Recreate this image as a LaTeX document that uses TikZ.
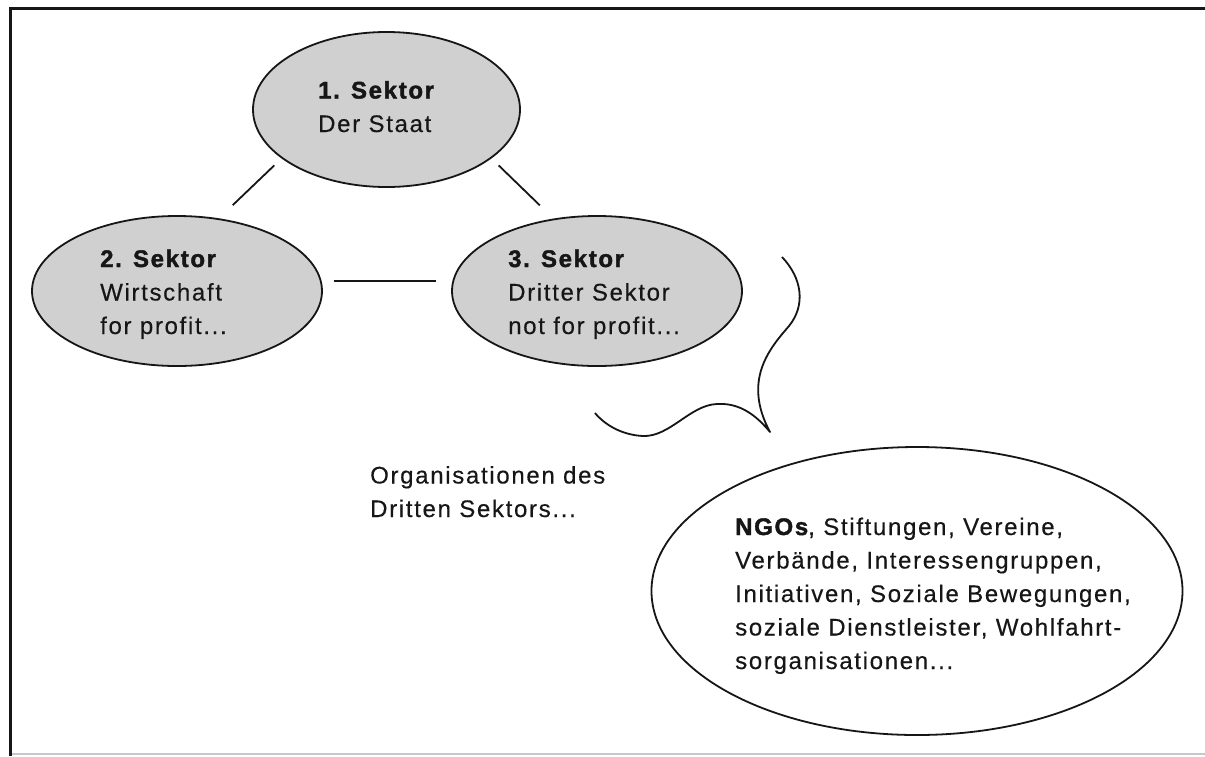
\documentclass[tikz,border=0pt]{standalone}
\usepackage{fontspec}
\setmainfont{Liberation Sans}[LetterSpace=7, UprightFeatures={FakeBold=0.35}, BoldFeatures={FakeBold=1.6}]
\usetikzlibrary{shapes.geometric}
\definecolor{ellgray}{RGB}{208,208,208}
\definecolor{inkc}{RGB}{22,22,22}
\begin{document}
\begin{tikzpicture}[x=1pt,y=-1pt,
  sector/.style={ellipse, draw=inkc, line width=1.8pt, fill=ellgray, inner sep=0pt},
  bubble/.style={ellipse, draw=inkc, line width=1.8pt, fill=white, inner sep=0pt},
  txt/.style={anchor=base west, align=left, inner sep=0pt, text=inkc, font=\fontsize{24}{33.5}\selectfont},
  conn/.style={draw=inkc, line width=1.8pt},
  tail/.style={draw=inkc, line width=1.8pt, line join=round}]
\useasboundingbox (0,0) rectangle (1205,756);
\fill[white] (0,0) rectangle (1205,756);
% frame
\draw[line width=3pt, inkc] (1205,8) -- (10,8) -- (10,756);
\draw[line width=1.5pt, black!22] (11.5,754) -- (1205,754);
% sector ellipses
\node[sector, minimum width=267pt, minimum height=155pt] (e1) at (386.5,109.5) {};
\node[sector, minimum width=290pt, minimum height=150pt] (e2) at (177,291) {};
\node[sector, minimum width=290pt, minimum height=150pt] (e3) at (597,291) {};
\node[bubble, minimum width=531pt, minimum height=288pt] (e4) at (917,591) {};
% texts (anchor = baseline of the last line)
\node[txt] (t1) at (318,132) {\textbf{1. Sektor}\\Der Staat};
\node[txt] (t2) at (100,334) {\textbf{2. Sektor}\\Wirtschaft\\for profit...};
\node[txt] (t3) at (508,334) {\textbf{3. Sektor}\\Dritter Sektor\\not for profit...};
\node[txt] (t4) at (370,517) {Organisationen des\\Dritten Sektors...};
\node[txt] (t5) at (735,669) {\textbf{NGOs}, Stiftungen, Vereine,\\Verbände, Interessengruppen,\\Initiativen, Soziale Bewegungen,\\soziale Dienstleister, Wohlfahrt-\\sorganisationen...};
% connectors
\draw[conn, shorten <=10pt, shorten >=19pt] (e1.205) -- (e2.60);
\draw[conn, shorten <=10pt, shorten >=19pt] (e1.335) -- (e3.121);
\draw[conn, shorten <=12pt, shorten >=16pt] (e2.4) -- (e3.176);
% speech-bubble tail
\draw[tail] (782,257) .. controls (802,278) and (806,305) .. (789,326)
  .. controls (770,348) and (742,380) .. (770,432)
  .. controls (752,410) and (735,403) .. (717,404)
  .. controls (690,405) and (670,437) .. (643,436)
  .. controls (622,435) and (605,425) .. (595,413);
\end{tikzpicture}
\end{document}
